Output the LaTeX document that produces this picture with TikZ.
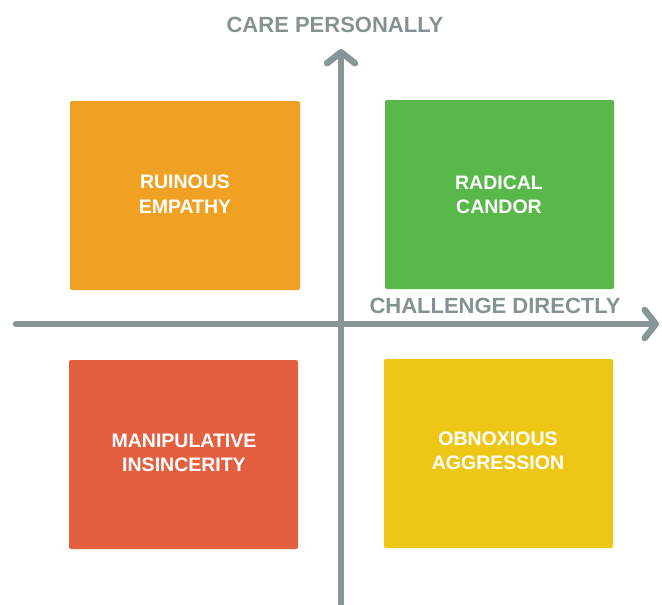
\documentclass[tikz,border=0pt]{standalone}
\usepackage{fontspec}
\setmainfont{Liberation Sans}
\usetikzlibrary{arrows.meta}
\definecolor{axisgrey}{HTML}{889599}
\definecolor{labelgrey}{HTML}{859295}
\definecolor{qorange}{HTML}{F0A023}
\definecolor{qgreen}{HTML}{58B84A}
\definecolor{qred}{HTML}{E35F40}
\definecolor{qyellow}{HTML}{EEC716}
\tikzset{
  quad/.style={fill=#1, rounded corners=2pt, draw=none},
  quadtext/.style={text=white, align=center, font=\fontsize{19.5}{24.5}\selectfont\bfseries},
  axislabel/.style={text=labelgrey, font=\fontsize{22}{24}\selectfont\bfseries, inner sep=0pt},
  axisline/.style={draw=axisgrey, line width=6.5pt, line cap=round,
    -{Straight Barb[length=11pt,width=28pt,round]}}
}
\begin{document}
\begin{tikzpicture}[x=1pt,y=-1pt]
\useasboundingbox (0,0) rectangle (662,605);
% quadrants
\fill[quad=qorange] (70,101) rectangle (300,290);
\fill[quad=qgreen] (385,100) rectangle (614,289);
\fill[quad=qred] (69,360) rectangle (298,549);
\fill[quad=qyellow] (384,359) rectangle (613,548);
\node[quadtext] (re) at (185,194) {RUINOUS\\EMPATHY};
\node[quadtext] (rc) at (499,195) {RADICAL\\CANDOR};
\node[quadtext] (mi) at (184,453) {MANIPULATIVE\\INSINCERITY};
\node[quadtext] (oa) at (498,451) {OBNOXIOUS\\AGGRESSION};
% axes
\coordinate (hstart) at (16,324);
\coordinate (hend) at (659,324);
\coordinate (vstart) at (341,610);
\coordinate (vend) at (341,49);
\draw[axisline] (hstart) -- (hend);
\draw[axisline] (vstart) -- (vend);
% axis labels
\node[axislabel] (cp) at (335,25) {CARE PERSONALLY};
\node[axislabel] (cd) at (495,306) {CHALLENGE DIRECTLY};
\end{tikzpicture}
\end{document}
